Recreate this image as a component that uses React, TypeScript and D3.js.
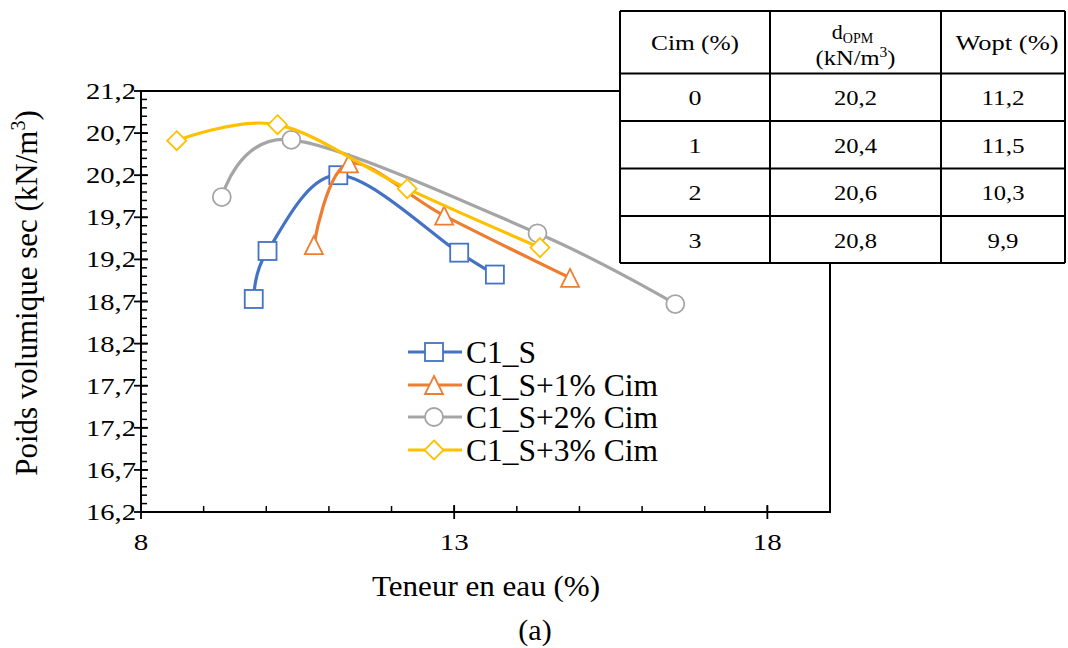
import React from "react";
import * as d3 from "d3";

// ---------- data ----------
const seriesNames = ["C1_S", "C1_S+1% Cim", "C1_S+2% Cim", "C1_S+3% Cim"];
const seriesColors = ["#4472C4", "#ED7D31", "#A5A5A5", "#FFC000"];
const seriesMarkers = ["square", "triangle", "circle", "diamond"];

const c1sW = [9.8, 10.02, 11.15, 13.08, 13.65];
const c1sG = [18.73, 19.3, 20.2, 19.28, 19.02];
const cim1W = [10.76, 11.32, 12.84, 14.85];
const cim1G = [19.37, 20.34, 19.72, 18.98];
const cim2W = [9.29, 10.4, 14.33, 16.53];
const cim2G = [19.94, 20.62, 19.51, 18.67];
const cim3W = [8.57, 10.18, 12.25, 14.37];
const cim3G = [20.61, 20.8, 20.04, 19.34];

const seriesW = [c1sW, cim1W, cim2W, cim3W];
const seriesG = [c1sG, cim1G, cim2G, cim3G];

const xTickValues = [8, 13, 18];
const xTickLabels = ["8", "13", "18"];
const yTickValues = [16.2, 16.7, 17.2, 17.7, 18.2, 18.7, 19.2, 19.7, 20.2, 20.7, 21.2];
const yTickLabels = ["16,2", "16,7", "17,2", "17,7", "18,2", "18,7", "19,2", "19,7", "20,2", "20,7", "21,2"];

const tableCim = ["0", "1", "2", "3"];
const tableDopm = ["20,2", "20,4", "20,6", "20,8"];
const tableWopt = ["11,2", "11,5", "10,3", "9,9"];

const TS = { fontFamily: "Liberation Serif" };

function Marker({ shape, cx, cy, color }: { shape: string; cx: number; cy: number; color: string }) {
  const s = 9;
  const common = { fill: "#fff", stroke: color, strokeWidth: 1.8 };
  if (shape === "square") return <rect x={cx - s} y={cy - s} width={2 * s} height={2 * s} {...common} />;
  if (shape === "circle") return <circle cx={cx} cy={cy} r={s} {...common} />;
  if (shape === "triangle")
    return <path d={`M${cx},${cy - s}L${cx + s},${cy + s}L${cx - s},${cy + s}Z`} {...common} />;
  return <path d={`M${cx},${cy - 9.5}L${cx + 9.5},${cy}L${cx},${cy + 9.5}L${cx - 9.5},${cy}Z`} {...common} />;
}

export default function App() {
  const x = d3.scaleLinear().domain([8, 19]).range([141, 830]);
  const y = d3.scaleLinear().domain([16.2, 21.2]).range([512, 91]);
  const line = d3
    .line<[number, number]>()
    .x((d) => x(d[0]))
    .y((d) => y(d[1]))
    .curve(d3.curveCatmullRom.alpha(0));

  const yMinor = d3.range(0, 51).map((i) => 16.2 + i * 0.1);
  const xMinor = d3.range(9, 19);

  // table geometry
  const colX = [620, 770, 941, 1065];
  const rowY = [11, 73.5, 121, 168.5, 216, 263];

  const legendY = [352, 385, 417, 450];

  return (
    <svg width={1068} height={648} style={{ position: "absolute", left: 0, top: 0, background: "#fff" }}>
      <rect x={0} y={0} width={1068} height={648} fill="#fff" />
      {/* plot frame */}
      <rect x={141} y={91} width={689} height={421} fill="none" stroke="#000" strokeWidth={2} />

      {/* y ticks */}
      {yMinor.map((v, i) => (
        <line key={"ym" + i} x1={141} x2={147} y1={y(v)} y2={y(v)} stroke="#000" strokeWidth={1.5} />
      ))}
      {yTickValues.map((v, i) => (
        <g key={"yt" + i}>
          <line x1={134} x2={148} y1={y(v)} y2={y(v)} stroke="#000" strokeWidth={1.8} />
          <text
            style={TS}
            x={136}
            y={y(v) + 8}
            fontSize={23}
            textAnchor="end"
            textLength={50}
            lengthAdjust="spacingAndGlyphs"
          >
            {yTickLabels[i]}
          </text>
        </g>
      ))}

      {/* x ticks */}
      {xMinor.map((v, i) => (
        <line key={"xm" + i} x1={x(v)} x2={x(v)} y1={512} y2={506} stroke="#000" strokeWidth={1.5} />
      ))}
      {xTickValues.map((v, i) => (
        <g key={"xt" + i}>
          <line x1={x(v)} x2={x(v)} y1={505} y2={519} stroke="#000" strokeWidth={1.8} />
          <text
            style={TS}
            x={x(v)}
            y={550}
            fontSize={23}
            textAnchor="middle"
            textLength={xTickLabels[i].length * 14.5}
            lengthAdjust="spacingAndGlyphs"
          >
            {xTickLabels[i]}
          </text>
        </g>
      ))}

      {/* axis titles */}
      <text style={TS} x={486} y={596} fontSize={30} textAnchor="middle" textLength={228} lengthAdjust="spacingAndGlyphs">
        Teneur en eau (%)
      </text>
      <text style={TS} x={535} y={640} fontSize={30} textAnchor="middle">
        (a)
      </text>
      <text style={TS} transform="translate(37,293) rotate(-90)" fontSize={31} textAnchor="middle">
        Poids volumique  sec (kN/m
        <tspan fontSize={20} dy={-12}>
          3
        </tspan>
        <tspan dy={12}>)</tspan>
      </text>

      {/* series */}
      {seriesNames.map((name, si) => {
        const pts: [number, number][] = seriesW[si].map((w, j) => [w, seriesG[si][j]]);
        return (
          <g key={name}>
            <path d={line(pts) || ""} fill="none" stroke={seriesColors[si]} strokeWidth={3.2} strokeLinejoin="round" strokeLinecap="round" />
            {pts.map((p, j) => (
              <Marker key={j} shape={seriesMarkers[si]} cx={x(p[0])} cy={y(p[1])} color={seriesColors[si]} />
            ))}
          </g>
        );
      })}

      {/* legend */}
      {seriesNames.map((name, si) => (
        <g key={"lg" + si}>
          <line x1={408} x2={462} y1={legendY[si]} y2={legendY[si]} stroke={seriesColors[si]} strokeWidth={3.2} />
          <Marker shape={seriesMarkers[si]} cx={434} cy={legendY[si]} color={seriesColors[si]} />
          <text style={TS} x={466} y={legendY[si] + 11} fontSize={31.5}>
            {name}
          </text>
        </g>
      ))}

      {/* table */}
      <rect x={colX[0]} y={rowY[0]} width={colX[3] - colX[0]} height={rowY[5] - rowY[0]} fill="#fff" />
      {rowY.map((ry, i) => (
        <line key={"tr" + i} x1={colX[0]} x2={colX[3]} y1={ry} y2={ry} stroke="#000" strokeWidth={2} />
      ))}
      {colX.map((cx, i) => (
        <line key={"tc" + i} x1={cx} x2={cx} y1={rowY[0]} y2={rowY[5]} stroke="#000" strokeWidth={2} />
      ))}
      <text style={TS} x={(colX[0] + colX[1]) / 2} y={50} fontSize={22} textAnchor="middle" textLength={88} lengthAdjust="spacingAndGlyphs">
        Cim (%)
      </text>
      <text style={TS} x={(colX[1] + colX[2]) / 2 - 3} y={39} fontSize={22} textAnchor="middle">
        d<tspan fontSize={14} dy={4}>OPM</tspan>
      </text>
      <text style={TS} x={(colX[1] + colX[2]) / 2} y={65} fontSize={22} textAnchor="middle" textLength={80} lengthAdjust="spacingAndGlyphs">
        (kN/m<tspan fontSize={14} dy={-8}>3</tspan>
        <tspan dy={8}>)</tspan>
      </text>
      <text style={TS} x={(colX[2] + colX[3]) / 2 + 4} y={50} fontSize={22} textAnchor="middle" textLength={103} lengthAdjust="spacingAndGlyphs">
        Wopt (%)
      </text>
      {tableCim.map((c, i) => {
        const cy = (rowY[i + 1] + rowY[i + 2]) / 2 + 8;
        return (
          <g key={"row" + i}>
            <text style={TS} x={(colX[0] + colX[1]) / 2} y={cy} fontSize={22} textAnchor="middle" textLength={13} lengthAdjust="spacingAndGlyphs">
              {c}
            </text>
            <text style={TS} x={(colX[1] + colX[2]) / 2} y={cy} fontSize={22} textAnchor="middle" textLength={43} lengthAdjust="spacingAndGlyphs">
              {tableDopm[i]}
            </text>
            <text
              style={TS}
              x={(colX[2] + colX[3]) / 2}
              y={cy}
              fontSize={22}
              textAnchor="middle"
              textLength={tableWopt[i].length === 4 ? 43 : 31}
              lengthAdjust="spacingAndGlyphs"
            >
              {tableWopt[i]}
            </text>
          </g>
        );
      })}
    </svg>
  );
}
